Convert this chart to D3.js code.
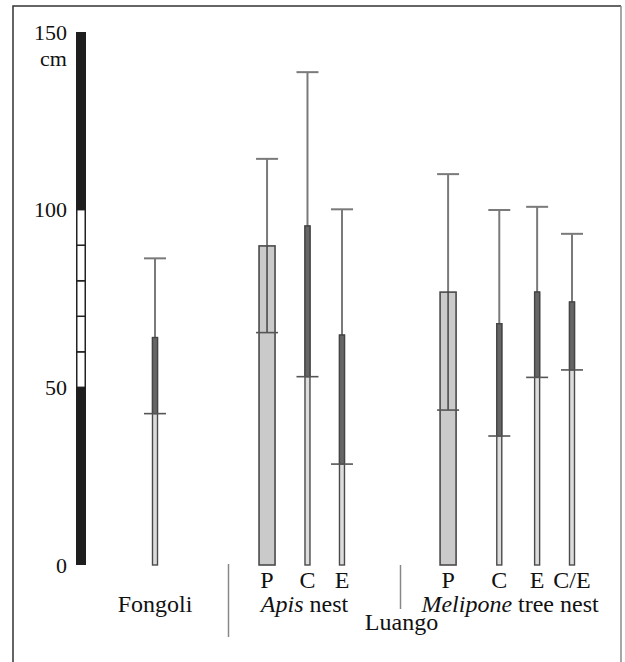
<!DOCTYPE html>
<html>
<head>
<meta charset="utf-8">
<script src="https://cdn.jsdelivr.net/npm/d3@7"></script>
<style>
  html, body { margin: 0; padding: 0; background: #fff; }
  svg { display: block; }
  svg text { font-family: "Liberation Serif", "Tinos", "Times New Roman", "DejaVu Serif", serif; fill: #111; }
</style>
</head>
<body>
<svg id="chart" width="625" height="662"></svg>
<script>
// ---- data ----
const categories = ["Fongoli", "Apis P", "Apis C", "Apis E", "Melipone P", "Melipone C", "Melipone E", "Melipone C/E"];
const barLabels  = ["", "P", "C", "E", "P", "C", "E", "C/E"];
const meanValues  = [64, 89.8, 95.4, 64.7, 76.8, 67.9, 76.8, 74];
const lowerValues = [42.6, 65.4, 53, 28.4, 43.6, 36.3, 52.8, 54.9];
const upperValues = [86.3, 114.3, 138.7, 100.1, 110, 99.9, 100.8, 93.2];
const barKinds    = ["narrow", "wide", "narrow", "narrow", "wide", "narrow", "narrow", "narrow"];
const tickValues  = [0, 50, 100, 150];
const scaleSegments = [
  { from: 0, to: 50, kind: "dark" },
  { from: 50, to: 60, kind: "light" },
  { from: 60, to: 70, kind: "light" },
  { from: 70, to: 80, kind: "light" },
  { from: 80, to: 90, kind: "light" },
  { from: 90, to: 100, kind: "light" },
  { from: 100, to: 150, kind: "dark" }
];
const groupLabels = [
  { text: ["Fongoli"], italic: [false], from: 0, to: 0, row: 0 },
  { text: ["Apis", " nest"], italic: [true, false], from: 1, to: 3, row: 0 },
  { text: ["Melipone", " tree nest"], italic: [true, false], from: 4, to: 7, row: 0 },
  { text: ["Luango"], italic: [false], from: 3, to: 4, row: 1 }
];

// ---- layout (positions, not data) ----
const slotPos = [0, 3.02, 4.11, 5.04, 7.9, 9.28, 10.3, 11.24];
const W = 625, H = 662;
const FONT = '"Liberation Serif", "Tinos", "Times New Roman", "DejaVu Serif", serif';
const svg = d3.select("#chart");

const y = d3.scaleLinear().domain([0, 150]).range([565, 32]);
const x = d3.scaleLinear().domain([0, 11.24]).range([155, 572]);
const cx = i => x(slotPos[i]);
const bw = { wide: 16, narrow: 5 };
const capW = 22;

// frame
svg.append("path")
  .attr("d", `M13,${H + 5} L13,6 L621,6`)
  .attr("fill", "none").attr("stroke", "#333").attr("stroke-width", 1.5);
svg.append("line")
  .attr("x1", 621).attr("x2", 621).attr("y1", 6).attr("y2", H + 5)
  .attr("stroke", "#888").attr("stroke-width", 1.5);

// scale bar
const sbX = 76, sbW = 10;
svg.append("g").selectAll("rect").data(scaleSegments).join("rect")
  .attr("x", d => d.kind === "dark" ? sbX : sbX + 0.75)
  .attr("width", d => d.kind === "dark" ? sbW : sbW - 1.5)
  .attr("y", d => y(d.to))
  .attr("height", d => y(d.from) - y(d.to))
  .attr("fill", d => d.kind === "dark" ? "#1e1e1e" : "#fff")
  .attr("stroke", d => d.kind === "dark" ? "none" : "#222")
  .attr("stroke-width", 1.5);

// axis labels
const axis = d3.axisLeft(y).tickValues(tickValues).tickSize(0).tickPadding(9);
const ag = svg.append("g").attr("transform", `translate(${sbX},0)`).call(axis)
  .attr("font-family", FONT).attr("font-size", 22);
ag.select(".domain").remove();
ag.selectAll("text").attr("fill", "#111").attr("font-family", FONT).attr("font-size", 22);
svg.append("text").attr("x", 67).attr("y", y(150) + 34).attr("text-anchor", "end")
  .attr("font-family", FONT).attr("font-size", 22).text("cm");

// bars
const gBars = svg.append("g");
categories.forEach((c, i) => {
  const w = bw[barKinds[i]];
  const xc = cx(i);
  const g = gBars.append("g");
  // whisker above bar
  g.append("line").attr("x1", xc).attr("x2", xc)
    .attr("y1", y(meanValues[i])).attr("y2", y(upperValues[i]))
    .attr("stroke", "#7a7a7a").attr("stroke-width", 2);
  g.append("line").attr("x1", xc - capW / 2).attr("x2", xc + capW / 2)
    .attr("y1", y(upperValues[i])).attr("y2", y(upperValues[i]))
    .attr("stroke", "#7a7a7a").attr("stroke-width", 2);
  // bar body
  g.append("rect").attr("x", xc - w / 2).attr("width", w)
    .attr("y", y(meanValues[i])).attr("height", y(0) - y(meanValues[i]))
    .attr("fill", barKinds[i] === "wide" ? "#cacaca" : "#dcdcdc")
    .attr("stroke", "#4a4a4a").attr("stroke-width", barKinds[i] === "wide" ? 1.6 : 1.4);
  if (barKinds[i] === "narrow") {
    g.append("rect").attr("x", xc - w / 2).attr("width", w)
      .attr("y", y(meanValues[i])).attr("height", y(lowerValues[i]) - y(meanValues[i]))
      .attr("fill", "#666").attr("stroke", "#444").attr("stroke-width", 1.3);
  } else {
    g.append("line").attr("x1", xc).attr("x2", xc)
      .attr("y1", y(meanValues[i])).attr("y2", y(lowerValues[i]))
      .attr("stroke", "#444").attr("stroke-width", 1.5);
  }
  // lower tick
  g.append("line").attr("x1", xc - capW / 2).attr("x2", xc + capW / 2)
    .attr("y1", y(lowerValues[i])).attr("y2", y(lowerValues[i]))
    .attr("stroke", "#555").attr("stroke-width", 1.6);
  // bar label
  if (barLabels[i]) {
    svg.append("text").attr("x", xc).attr("y", 588).attr("text-anchor", "middle")
      .attr("font-family", FONT).attr("font-size", 24).text(barLabels[i]);
  }
});

// dividers
svg.append("line").attr("x1", 228.5).attr("x2", 228.5).attr("y1", 564).attr("y2", 637)
  .attr("stroke", "#888").attr("stroke-width", 1.5);
svg.append("line").attr("x1", 400.5).attr("x2", 400.5).attr("y1", 565).attr("y2", 609)
  .attr("stroke", "#888").attr("stroke-width", 1.5);

// group labels
groupLabels.forEach(gl => {
  const xm = gl.row === 0 ? (cx(gl.from) + cx(gl.to)) / 2 : 401.5;
  const t = svg.append("text").attr("x", xm).attr("y", gl.row === 0 ? 612 : 630)
    .attr("text-anchor", "middle").attr("font-family", FONT).attr("font-size", 24);
  gl.text.forEach((s, k) => {
    t.append("tspan").attr("font-style", gl.italic[k] ? "italic" : "normal")
      .attr("xml:space", "preserve").text(s);
  });
});
</script>
</body>
</html>
